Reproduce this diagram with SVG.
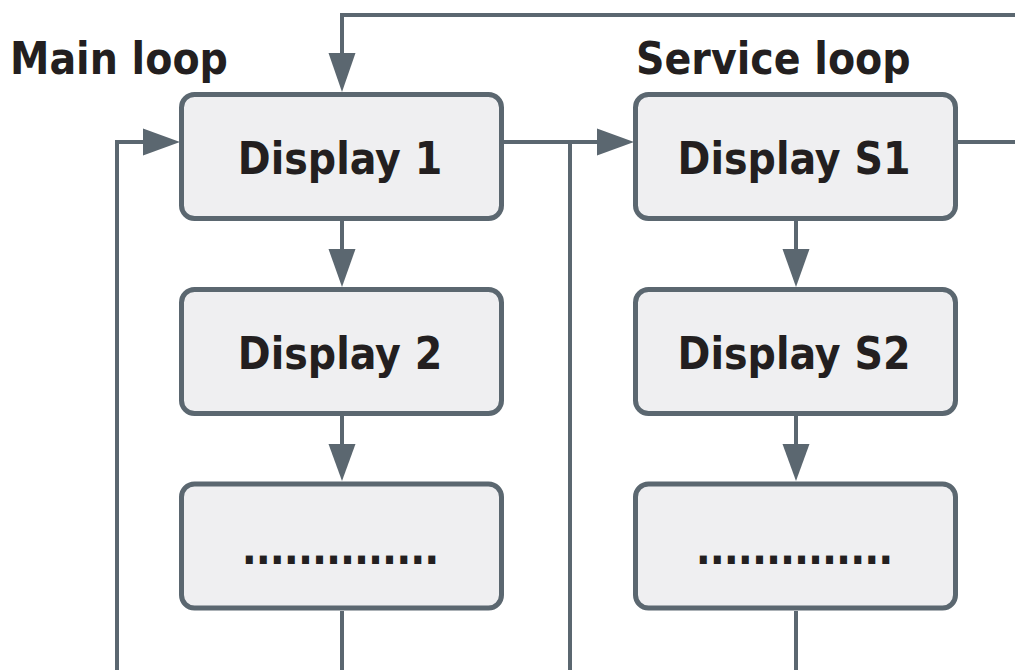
<svg xmlns="http://www.w3.org/2000/svg" width="1015" height="670" viewBox="0 0 1015 670">
<defs>
<style>
.box{fill:#efeff1;stroke:#5b6770;stroke-width:5}
.t{font-family:"DejaVu Sans Condensed","DejaVu Sans",Verdana,sans-serif;font-stretch:condensed;font-weight:bold;font-size:44px;fill:#231f20;text-anchor:middle}
.h{font-family:"DejaVu Sans Condensed","DejaVu Sans",Verdana,sans-serif;font-stretch:condensed;font-weight:bold;font-size:44px;fill:#231f20}
.c{fill:none;stroke:#5b6770;stroke-width:4}
</style>
</defs>
<rect width="1015" height="670" fill="#ffffff"/>
<text class="h" x="10" y="74">Main loop</text>
<text class="h" x="636" y="74">Service loop</text>
<g id="connectors">
<path class="c" d="M1015,15 H342 V56"/>
<path fill="#5b6770" d="M328.5,53 L355.5,53 L342,92 Z"/>
<path class="c" d="M117,670 V142 H146"/>
<path fill="#5b6770" d="M143,128.5 L143,155.5 L180,142 Z"/>
<path class="c" d="M504,142 H600"/>
<path class="c" d="M570,142 V670"/>
<path fill="#5b6770" d="M597,128.5 L597,155.5 L634,142 Z"/>
<path class="c" d="M958,142 H1015"/>
<path class="c" d="M342,221 V252"/>
<path fill="#5b6770" d="M328.5,249 L355.5,249 L342,287 Z"/>
<path class="c" d="M342,416 V447"/>
<path fill="#5b6770" d="M328.5,444 L355.5,444 L342,481 Z"/>
<path class="c" d="M342,611 V670"/>
<path class="c" d="M796,221 V252"/>
<path fill="#5b6770" d="M782.5,249 L809.5,249 L796,287 Z"/>
<path class="c" d="M796,416 V447"/>
<path fill="#5b6770" d="M782.5,444 L809.5,444 L796,481 Z"/>
<path class="c" d="M796,611 V670"/>
</g>
<g id="display1"><rect class="box" x="181.5" y="94.5" width="320" height="124" rx="13"/><text class="t" x="340" y="174">Display 1</text></g>
<g id="display2"><rect class="box" x="181.5" y="289.5" width="320" height="124" rx="13"/><text class="t" x="340" y="369">Display 2</text></g>
<g id="display3"><rect class="box" x="181.5" y="484" width="320" height="124" rx="13"/><text class="t" x="340" y="564" letter-spacing="-1">..............</text></g>
<g id="displayS1"><rect class="box" x="635.5" y="94.5" width="320" height="124" rx="13"/><text class="t" x="794" y="174">Display S1</text></g>
<g id="displayS2"><rect class="box" x="635.5" y="289.5" width="320" height="124" rx="13"/><text class="t" x="794" y="369">Display S2</text></g>
<g id="displayS3"><rect class="box" x="635.5" y="484" width="320" height="124" rx="13"/><text class="t" x="794" y="564" letter-spacing="-1">..............</text></g>
</svg>
